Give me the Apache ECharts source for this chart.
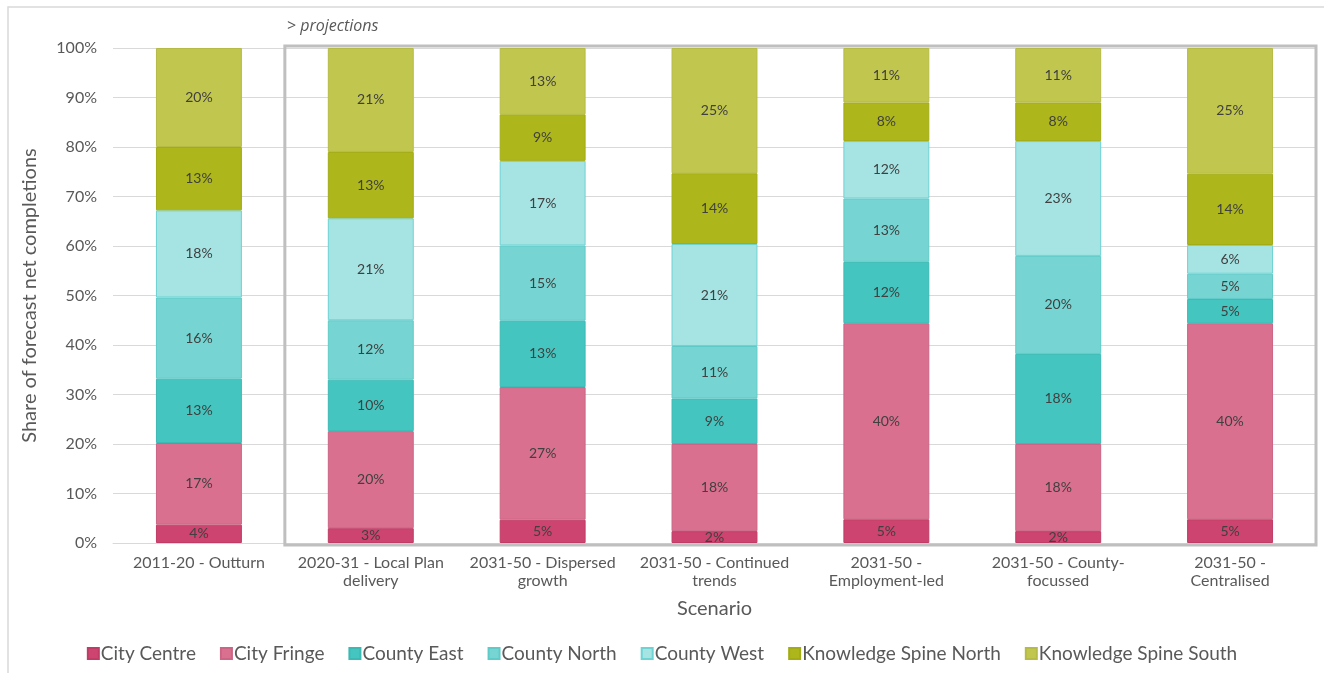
<!DOCTYPE html>
<html>
<head>
<meta charset="utf-8">
<script src="https://cdn.jsdelivr.net/npm/echarts@6/dist/echarts.min.js"></script>
<style>
html,body{margin:0;padding:0;background:#fff;}
#chart{width:1324px;height:673px;}
</style>
</head>
<body>
<div id="chart"></div>
<script>
const categories = [
  '2011-20 - Outturn',
  '2020-31 - Local Plan\ndelivery',
  '2031-50 - Dispersed\ngrowth',
  '2031-50 - Continued\ntrends',
  '2031-50 -\nEmployment-led',
  '2031-50 - County-\nfocussed',
  '2031-50 -\nCentralised'
];
const seriesNames = ['City Centre','City Fringe','County East','County North','County West','Knowledge Spine North','Knowledge Spine South'];
const cityCentre   = [3.7, 3.0, 4.7, 2.4, 4.8, 2.4, 4.8];
const cityFringe   = [16.5, 19.6, 26.8, 17.6, 39.6, 17.6, 39.6];
const countyEast   = [13.0, 10.4, 13.4, 9.2, 12.4, 18.2, 4.9];
const countyNorth  = [16.4, 12.0, 15.2, 10.6, 12.8, 19.8, 5.1];
const countyWest   = [17.6, 20.6, 17.1, 20.6, 11.6, 23.2, 5.8];
const ksNorth      = [12.8, 13.4, 9.4, 14.3, 7.8, 7.8, 14.4];
const ksSouth      = [20.0, 21.0, 13.4, 25.3, 11.0, 11.0, 25.4];
const yTicks = [0,10,20,30,40,50,60,70,80,90,100];

const seriesData = [cityCentre, cityFringe, countyEast, countyNorth, countyWest, ksNorth, ksSouth];
const colors = ['#cc446f','#d9708f','#45c5bf','#76d5d2','#a6e3e3','#adb61a','#c1c64e'];
const borders = ['#c03c66','#cc6585','#3bbab4','#5fcbc8','#6dd3d3','#a3ac14','#b6bb45'];
const FONT = 'Lato, "Noto Sans", sans-serif';

const chart = echarts.init(document.getElementById('chart'));
const option = {
  animation: false,
  color: colors,
  textStyle: {fontFamily: FONT},
  grid: {left: 113, right: 8, top: 48, bottom: 130, containLabel: false},
  legend: {
    bottom: 5,
    left: 'center',
    itemWidth: 11, itemHeight: 11, itemGap: 24,
    icon: 'rect',
    textStyle: {fontFamily: FONT, fontSize: 19, color: '#595959', padding: [0,0,0,-3]},
    data: seriesNames
  },
  xAxis: {
    type: 'category',
    data: categories,
    name: 'Scenario',
    nameLocation: 'middle',
    nameGap: 56,
    nameTextStyle: {fontFamily: FONT, fontSize: 20, color: '#595959'},
    axisLine: {show: true, lineStyle: {color: '#d9d9d9'}},
    axisTick: {show: false},
    axisLabel: {fontFamily: FONT, fontSize: 16, color: '#595959', lineHeight: 18, margin: 11, interval: 0}
  },
  yAxis: {
    type: 'value',
    min: 0, max: 100, interval: 10,
    name: 'Share of forecast net completions',
    nameLocation: 'middle',
    nameGap: 73,
    nameTextStyle: {fontFamily: FONT, fontSize: 20, color: '#595959'},
    axisLine: {show: false},
    axisTick: {show: false},
    splitLine: {lineStyle: {color: '#d9d9d9'}},
    axisLabel: {fontFamily: FONT, fontSize: 16, color: '#595959', margin: 16, formatter: '{value}%'}
  },
  series: seriesNames.map((n, i) => ({
    name: n,
    type: 'bar',
    stack: 'total',
    barWidth: '50%',
    data: seriesData[i],
    itemStyle: {color: colors[i], borderColor: borders[i], borderWidth: 1},
    label: {
      show: true,
      position: 'inside',
      fontFamily: FONT,
      fontSize: 14,
      color: '#404040',
      formatter: p => Math.round(p.value) + '%'
    }
  }))
};
chart.setOption(option);

function drawOverlay() {
  const left = chart.convertToPixel({xAxisIndex: 0}, 1);
  const right = chart.convertToPixel({xAxisIndex: 0}, 6);
  const x0 = chart.convertToPixel({xAxisIndex: 0}, 0);
  const half = (left - x0) / 2;
  const yTop = chart.convertToPixel({yAxisIndex: 0}, 100);
  const yBot = chart.convertToPixel({yAxisIndex: 0}, 0);
  const bx = left - half;
  const bw = right + half - bx;
  chart.setOption({
    graphic: [
      {type: 'rect', shape: {x: 8, y: 7, width: 1340, height: 700}, style: {fill: 'none', stroke: '#d9d9d9', lineWidth: 1.5}, z: 0, silent: true},
      {type: 'rect', shape: {x: bx, y: yTop - 2, width: bw, height: yBot - yTop + 4}, style: {fill: 'none', stroke: '#bfbfbf', lineWidth: 3}, z: 100, silent: true},
      {type: 'text', x: bx + 2, y: 18, style: {text: '> projections', font: 'italic 16px "Open Sans", sans-serif', fill: '#595959'}, z: 100, silent: true}
    ]
  });
}
drawOverlay();
</script>
</body>
</html>
